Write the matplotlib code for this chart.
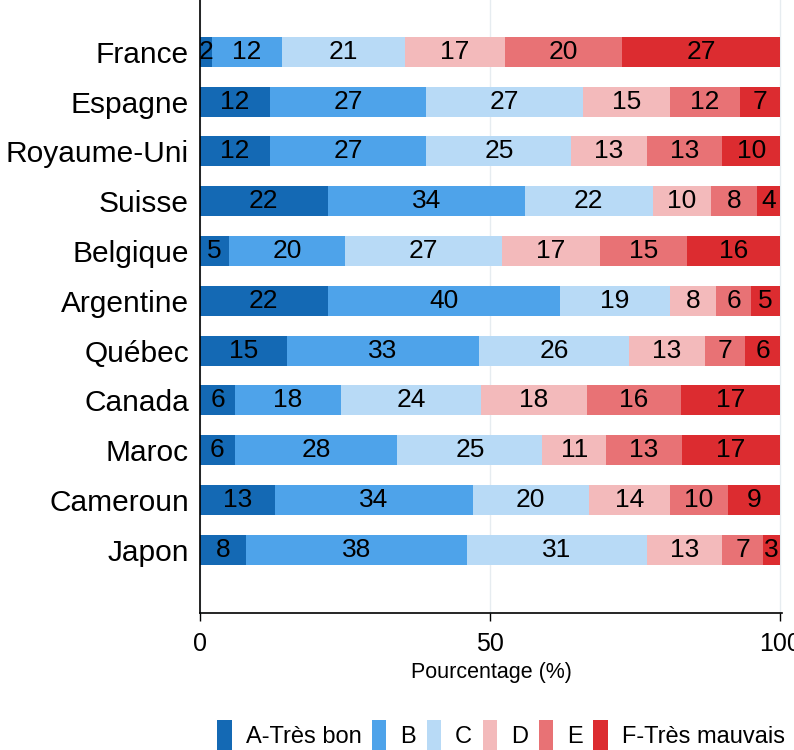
import matplotlib.pyplot as plt
import numpy as np

plt.rcParams['font.family'] = ['Liberation Sans', 'DejaVu Sans']

pays = ['France', 'Espagne', 'Royaume-Uni', 'Suisse', 'Belgique', 'Argentine',
        'Québec', 'Canada', 'Maroc', 'Cameroun', 'Japon']
categories = ['A-Très bon', 'B', 'C', 'D', 'E', 'F-Très mauvais']

a_tres_bon = [2, 12, 12, 22, 5, 22, 15, 6, 6, 13, 8]
b = [12, 27, 27, 34, 20, 40, 33, 18, 28, 34, 38]
c = [21, 27, 25, 22, 27, 19, 26, 24, 25, 20, 31]
d = [17, 15, 13, 10, 17, 8, 13, 18, 11, 14, 13]
e = [20, 12, 13, 8, 15, 6, 7, 16, 13, 10, 7]
f_tres_mauvais = [27, 7, 10, 4, 16, 5, 6, 17, 17, 9, 3]

couleurs = ['#1469B4', '#4EA3EA', '#B8DAF6', '#F3BABB', '#E87275', '#DC2C30']

series = [a_tres_bon, b, c, d, e, f_tres_mauvais]
# les etiquettes sont arrondies, chaque ligne fait 100 %
total = np.sum(np.array(series, dtype=float), axis=0)

fig = plt.figure(figsize=(7.94, 7.5), dpi=100)
ax = fig.add_axes([200 / 794, (750 - 613) / 750, 582 / 794, 613 / 750])

y = np.arange(len(pays))
gauche = np.zeros(len(pays))
for vals, coul, nom in zip(series, couleurs, categories):
    vals = np.array(vals, dtype=float)
    larg = vals / total * 100
    ax.barh(y, larg, left=gauche, height=0.6, color=coul, label=nom)
    for yi, g, w, v in zip(y, gauche, larg, vals):
        ax.text(g + w / 2, yi, str(int(v)), ha='center', va='center',
                fontsize=19, color='black')
    gauche += larg

ax.set_ylim(11.27, -1.04)
ax.set_xlim(0, 100.3)
ax.set_yticks(y)
ax.set_yticklabels(pays, fontsize=21.5)
ax.set_xticks([0, 50, 100])
ax.set_xticklabels(['0', '50', '100'], fontsize=18)
ax.tick_params(axis='y', length=0, pad=8)
ax.tick_params(axis='x', length=6, width=1, pad=8)
ax.xaxis.grid(True, color='#E6ECF0', linewidth=1)
ax.set_axisbelow(True)
for s in ['top', 'right']:
    ax.spines[s].set_visible(False)
ax.spines['left'].set_linewidth(1.2)
ax.spines['bottom'].set_linewidth(1.2)
ax.set_xlabel('Pourcentage (%)', fontsize=15.5, labelpad=4)

fig.legend(loc='center left', bbox_to_anchor=(208 / 794, 1 - 735 / 750), ncol=6,
           frameon=False, fontsize=17, handlelength=0.6, handleheight=1.6,
           handletextpad=0.6, columnspacing=0.45, borderaxespad=0)

fig.savefig('out.png', dpi=100)
